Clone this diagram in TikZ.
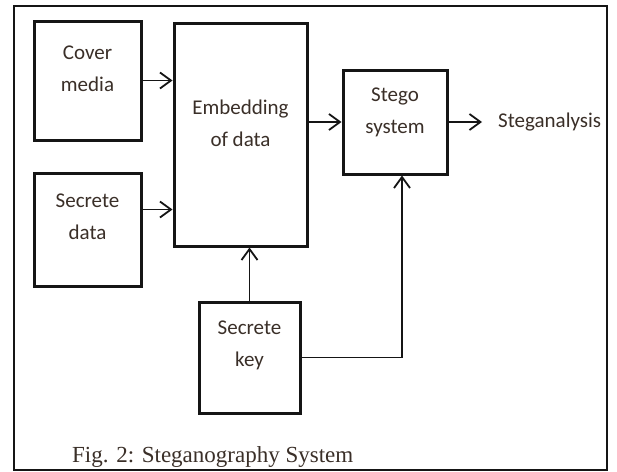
\documentclass[tikz,border=0pt]{standalone}
\usepackage{fontspec}
\setmainfont{Carlito}
\newfontfamily\captionfont{Liberation Serif}
\usetikzlibrary{arrows.meta}
\definecolor{inkline}{HTML}{151515}
\definecolor{inktext}{HTML}{3A2F28}
\tikzset{
  blockbox/.style={draw=inkline, line width=3pt, rectangle, inner sep=0pt},
  blocktext/.style={text=inktext, align=center, inner sep=0pt,
    font=\fontsize{21}{32}\selectfont},
  flow/.style={draw=inkline, line width=1.8pt,
    -{Straight Barb[length=11pt,width=16pt,line width=1.8pt]}},
  feed/.style={draw=inkline, line width=1.6pt},
}
\begin{document}
\begin{tikzpicture}[x=1pt,y=-1pt]
  \useasboundingbox (0,0) rectangle (617,471);
  \fill[white] (0,0) rectangle (617,471);
  % outer frame
  \draw[inkline, line width=1.4pt] (14,6) rectangle (607,470);

  % blocks
  \node[blockbox, minimum width=107pt, minimum height=119pt] (cover) at (87.5,80.5) {};
  \node[blockbox, minimum width=107pt, minimum height=113pt] (data)  at (87.5,229.5) {};
  \node[blockbox, minimum width=133pt, minimum height=223pt] (embed) at (240.5,134.5) {};
  \node[blockbox, minimum width=104pt, minimum height=104pt] (stego) at (395,122) {};
  \node[blockbox, minimum width=101pt, minimum height=111pt] (key)   at (249.5,357.5) {};

  % block labels
  \node[blocktext] (coverlabel) at (87.5,68.5)  {Cover\\media};
  \node[blocktext] (datalabel)  at (87.5,217)   {Secrete\\data};
  \node[blocktext] (embedlabel) at (240.5,123.5) {Embedding\\of data};
  \node[blocktext] (stegolabel) at (395,112)    {Stego\\system};
  \node[blocktext] (keylabel)   at (249.5,345.5) {Secrete\\key};
  \node[blocktext, anchor=base west] (analysis) at (498,127) {Steganalysis};

  % caption
  \node[text=inktext, anchor=base west, inner sep=0pt,
        font=\captionfont\fontsize{23}{26}\selectfont] (caption) at (72,462)
        {Fig. 2: Steganography System};

  % connector end points
  \coordinate (datastart) at ([yshift=20pt]data.east);
  \coordinate (keytap) at ([xshift=7pt]stego.south);

  % data flow
  \draw[flow] (cover.east) -- (embed.west |- cover.east);
  \draw[flow] (datastart) -- (embed.west |- datastart);
  \draw[flow] (embed.east |- stego.west) -- (stego.west);
  \draw[flow] (stego.east) -- ([xshift=-16pt]analysis.west |- stego.east);
  \draw[flow, line width=1.6pt] (key.north) -- (key.north |- embed.south);
  \draw[feed] (key.east) -- (keytap |- key.east);
  \draw[flow, line width=1.6pt] (keytap |- key.east) -- (keytap);
\end{tikzpicture}
\end{document}
